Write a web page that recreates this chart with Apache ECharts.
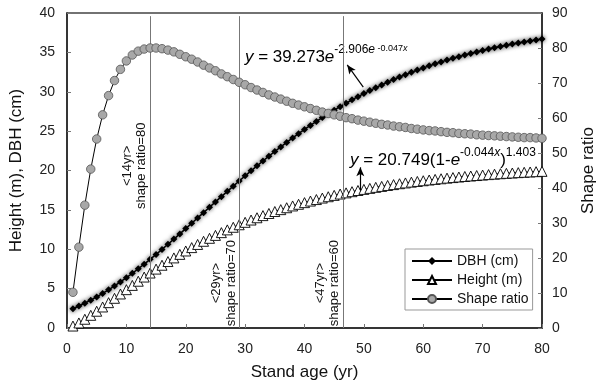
<!DOCTYPE html>
<html>
<head>
<meta charset="utf-8">
<script src="https://cdn.jsdelivr.net/npm/echarts@6/dist/echarts.min.js"></script>
<style>
html,body{margin:0;padding:0;background:#fff;}
#chart{width:605px;height:387px;}
</style>
</head>
<body>
<div id="chart"></div>
<script>
// ---- data ----
const ages = [1,2,3,4,5,6,7,8,9,10,11,12,13,14,15,16,17,18,19,20,21,22,23,24,25,26,27,28,29,30,31,32,33,34,35,36,37,38,39,40,41,42,43,44,45,46,47,48,49,50,51,52,53,54,55,56,57,58,59,60,61,62,63,64,65,66,67,68,69,70,71,72,73,74,75,76,77,78,79,80];
const dbh = [2.45,2.79,3.15,3.53,3.95,4.39,4.85,5.34,5.85,6.39,
  6.94,7.52,8.11,8.72,9.34,9.98,10.63,11.29,11.95,12.62,
  13.30,13.98,14.65,15.33,16.01,16.68,17.35,18.01,18.67,19.32,
  19.96,20.59,21.21,21.82,22.41,23.00,23.57,24.13,24.68,25.21,
  25.73,26.23,26.72,27.20,27.66,28.11,28.54,28.97,29.37,29.77,
  30.15,30.52,30.87,31.22,31.55,31.87,32.17,32.47,32.75,33.03,
  33.29,33.54,33.79,34.02,34.25,34.46,34.67,34.87,35.06,35.24,
  35.42,35.59,35.75,35.90,36.05,36.19,36.33,36.46,36.58,36.70];
const heightM = [0.25,0.64,1.11,1.61,2.13,2.67,3.22,3.77,4.32,4.87,
  5.41,5.94,6.47,6.98,7.48,7.97,8.44,8.90,9.35,9.78,
  10.21,10.61,11.01,11.39,11.76,12.11,12.46,12.79,13.11,13.42,
  13.71,14.00,14.27,14.54,14.79,15.03,15.27,15.50,15.71,15.92,
  16.12,16.31,16.50,16.67,16.84,17.01,17.16,17.31,17.46,17.60,
  17.73,17.86,17.98,18.10,18.21,18.32,18.42,18.52,18.61,18.70,
  18.79,18.87,18.95,19.03,19.10,19.17,19.24,19.30,19.36,19.42,
  19.48,19.53,19.59,19.64,19.68,19.73,19.77,19.81,19.85,19.89];
const shapeRatio = [10.2,23.1,35.1,45.4,54.0,60.9,66.4,70.7,73.9,76.3,
  78.0,79.1,79.7,80.0,80.0,79.8,79.4,78.9,78.2,77.5,
  76.8,76.0,75.1,74.3,73.5,72.6,71.8,71.0,70.2,69.5,
  68.7,68.0,67.3,66.6,66.0,65.4,64.8,64.2,63.7,63.2,
  62.7,62.2,61.7,61.3,60.9,60.5,60.1,59.8,59.4,59.1,
  58.8,58.5,58.2,58.0,57.7,57.5,57.3,57.0,56.8,56.6,
  56.4,56.3,56.1,55.9,55.8,55.6,55.5,55.4,55.2,55.1,
  55.0,54.9,54.8,54.7,54.6,54.5,54.4,54.4,54.3,54.2];
const seriesNames = ['DBH (cm)', 'Height (m)', 'Shape ratio'];
const refAges = [14, 29, 46.5];
const refLabels = ['<14yr>\nshape ratio=80', '<29yr>\nshape ratio=70', '<47yr>\nshape ratio=60'];

// ---- layout / annotation positions (data space) ----
const refLabelY = [20.6, 5.7, 5.7];
const arrows = [
  [[49.9, 30.6], [47.2, 33.4]],
  [[49.4, 17.5], [49.4, 20.4]]
];

const FONT = '"Liberation Sans", Arial, sans-serif';
const chart = echarts.init(document.getElementById('chart'), null, {renderer: 'canvas'});

const pairs = arr => ages.map((a, i) => [a, arr[i]]);

const option = {
  animation: false,
  backgroundColor: '#fff',
  textStyle: {fontFamily: FONT},
  grid: {left: 65, right: 59, top: 13, bottom: 59, show: true, borderColor: '#444', borderWidth: 1.5, backgroundColor: 'transparent'},
  legend: {
    orient: 'vertical', left: 405, top: 249,
    data: seriesNames,
    backgroundColor: '#fff',
    borderColor: '#999', borderWidth: 1,
    padding: [5, 4, 4, 6], itemGap: 5,
    itemWidth: 40, itemHeight: 10,
    textStyle: {fontFamily: FONT, fontSize: 14, color: '#111'}
  },
  xAxis: {
    type: 'value', min: 0, max: 80, interval: 10,
    name: 'Stand age (yr)', nameLocation: 'middle', nameGap: 36,
    nameTextStyle: {fontFamily: FONT, fontSize: 17, color: '#111'},
    axisLine: {show: true, lineStyle: {color: '#222', width: 1.5}},
    axisTick: {show: true, inside: true, length: 4, lineStyle: {color: '#777'}},
    axisLabel: {fontFamily: FONT, fontSize: 14, color: '#222', margin: 14},
    splitLine: {show: false}
  },
  yAxis: [{
    type: 'value', min: 0, max: 40, interval: 5, position: 'left',
    name: 'Height (m), DBH (cm)', nameLocation: 'middle', nameGap: 42,
    nameTextStyle: {fontFamily: FONT, fontSize: 17, color: '#111'},
    axisLine: {show: true, lineStyle: {color: '#222', width: 1.5}},
    axisTick: {show: true, inside: true, length: 4, lineStyle: {color: '#777'}},
    axisLabel: {fontFamily: FONT, fontSize: 14, color: '#222', margin: 12},
    splitLine: {show: false}
  }, {
    type: 'value', min: 0, max: 90, interval: 10, position: 'right',
    name: 'Shape ratio', nameLocation: 'middle', nameGap: 38,
    nameTextStyle: {fontFamily: FONT, fontSize: 17, color: '#111'},
    axisLine: {show: true, lineStyle: {color: '#222', width: 1.5}},
    axisTick: {show: true, inside: true, length: 4, lineStyle: {color: '#777'}},
    axisLabel: {fontFamily: FONT, fontSize: 14, color: '#222', margin: 10},
    splitLine: {show: false}
  }],
  series: [{
    name: seriesNames[0], type: 'line', yAxisIndex: 0,
    data: pairs(dbh),
    symbol: 'diamond', symbolSize: 7,
    lineStyle: {color: '#000', width: 1.5},
    itemStyle: {color: '#000', shadowBlur: 4, shadowColor: 'rgba(0,0,0,0.8)'},
    z: 3,
    markLine: {
      silent: true, symbol: 'none', animation: false,
      lineStyle: {color: '#777', width: 1, type: 'solid'},
      label: {show: false},
      data: refAges.map(a => [{coord: [a, 0]}, {coord: [a, 39.6]}])
    }
  }, {
    name: seriesNames[1], type: 'line', yAxisIndex: 0,
    data: pairs(heightM),
    symbol: 'triangle', symbolSize: [10, 10],
    lineStyle: {color: '#000', width: 1},
    itemStyle: {color: '#fff', borderColor: '#000', borderWidth: 0.9},
    z: 4,
    markLine: {
      silent: true, symbol: ['none', 'arrow'], symbolSize: [6, 9], animation: false,
      lineStyle: {color: '#000', width: 1.2, type: 'solid'},
      label: {show: false},
      data: arrows.map(p => [{coord: p[0]}, {coord: p[1]}])
    }
  }, {
    name: seriesNames[2], type: 'line', yAxisIndex: 1,
    data: pairs(shapeRatio),
    symbol: 'circle', symbolSize: 8.5,
    lineStyle: {color: '#000', width: 1},
    itemStyle: {color: '#a8a8a8', borderColor: '#555', borderWidth: 0.8},
    z: 5
  }]
};
chart.setOption(option);

// ---- annotations ----
const px = (x, y) => chart.convertToPixel({xAxisIndex: 0, yAxisIndex: 0}, [x, y]);
const eqRich = {
  i: {fontFamily: FONT, fontSize: 17, fontStyle: 'italic', color: '#111', lineHeight: 22, verticalAlign: 'bottom'},
  n: {fontFamily: FONT, fontSize: 17, color: '#111', lineHeight: 22, verticalAlign: 'bottom'},
  s: {fontFamily: FONT, fontSize: 12, color: '#111', lineHeight: 15, verticalAlign: 'top'},
  si: {fontFamily: FONT, fontSize: 12, fontStyle: 'italic', color: '#111', lineHeight: 15, verticalAlign: 'top'},
  ss: {fontFamily: FONT, fontSize: 9, color: '#111', lineHeight: 12, verticalAlign: 'top'},
  ssi: {fontFamily: FONT, fontSize: 9, fontStyle: 'italic', color: '#111', lineHeight: 12, verticalAlign: 'top'}
};
const graphics = [];
refAges.forEach((a, k) => {
  const p = px(a, refLabelY[k]);
  graphics.push({
    type: 'text', x: p[0] - 15.5, y: p[1], rotation: Math.PI / 2, silent: true,
    style: {text: refLabels[k], fontFamily: FONT, fontSize: 13, lineHeight: 14.5, fill: '#111', align: 'center', verticalAlign: 'middle'}
  });
});
graphics.push({
  type: 'text', x: 245, y: 44, silent: true,
  style: {text: '{i|y}{n| = 39.273}{i|e}{s|-2.906}{si|e}{ss| -0.047}{ssi|x}', rich: eqRich, align: 'left', verticalAlign: 'top'}
});
graphics.push({
  type: 'text', x: 350, y: 147, silent: true,
  style: {text: '{i|y}{n| = 20.749(1-}{i|e}{s|-0.044}{si|x}{n|)}{s|1.403}', rich: eqRich, align: 'left', verticalAlign: 'top'}
});
chart.setOption({graphic: graphics});
</script>
</body>
</html>
